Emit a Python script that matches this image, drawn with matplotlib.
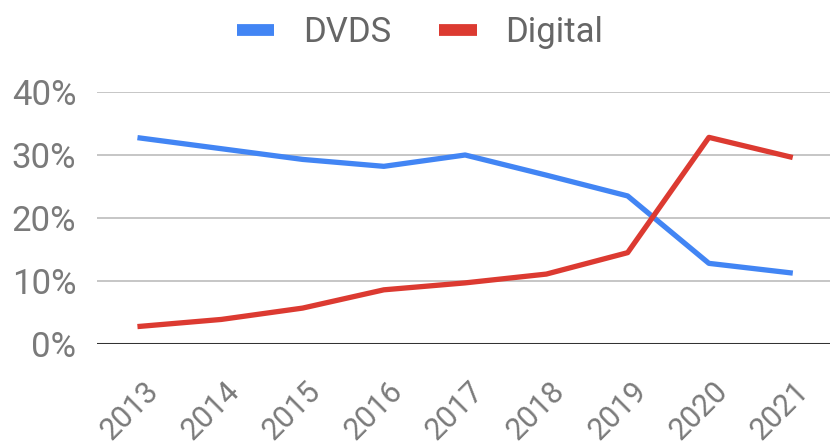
import matplotlib
matplotlib.use("Agg")
import matplotlib.pyplot as plt
import matplotlib.transforms as mtransforms

plt.rcParams['font.family'] = ['Roboto', 'DejaVu Sans']

years = ["2013", "2014", "2015", "2016", "2017", "2018", "2019", "2020", "2021"]
dvds = [32.7, 31.0, 29.3, 28.2, 30.0, 26.8, 23.5, 12.8, 11.3]
digital = [2.8, 3.9, 5.7, 8.6, 9.7, 11.1, 14.5, 32.8, 29.7]
yticks = [0, 10, 20, 30, 40]

blue = "#4285f4"
red = "#dc3a31"
grey = "#7a7a7a"

fig = plt.figure(figsize=(8.3, 4.48), dpi=100)
ax = fig.add_axes([97/830, 1-344/448, 1-97/830, (344-92)/448])

x = list(range(len(years)))
ax.plot(x, dvds, color=blue, lw=3.8, label="DVDS", solid_joinstyle="round", zorder=3)
ax.plot(x, digital, color=red, lw=3.8, label="Digital", solid_joinstyle="round", zorder=3)

ax.set_xlim(-0.53, 8.49)
ax.set_ylim(0, 40)
ax.set_yticks(yticks)
ax.set_yticklabels([f"{v}%" for v in yticks])
for v in yticks[1:]:
    ax.axhline(v, color="#c6c6c6", lw=1.4, zorder=1)
ax.axhline(0, color="#333333", lw=2.2, zorder=2)

for s in ax.spines.values():
    s.set_visible(False)
ax.tick_params(axis="y", length=0, pad=15, labelsize=25, labelcolor=grey)
ax.tick_params(axis="x", length=0, pad=8, labelsize=22, labelcolor=grey)
ax.set_xticks(x)
ax.set_xticklabels(years, rotation=45, ha="right", va="center", rotation_mode="anchor")
# push the slanted year labels down and a little to the right
shift = mtransforms.ScaledTranslation(14/100, -31/100, fig.dpi_scale_trans)
for lab in ax.get_xticklabels():
    lab.set_transform(lab.get_transform() + shift)

leg = fig.legend(loc="center", bbox_to_anchor=(0.506, 0.927), ncol=2, frameon=False,
                 fontsize=25, handlelength=1.08, handletextpad=0.82, columnspacing=1.4)
for h in leg.legend_handles:
    h.set_linewidth(8.5)
    h.set_solid_capstyle("butt")
for t in leg.get_texts():
    t.set_color("#666666")

fig.savefig("out.png", dpi=100)
